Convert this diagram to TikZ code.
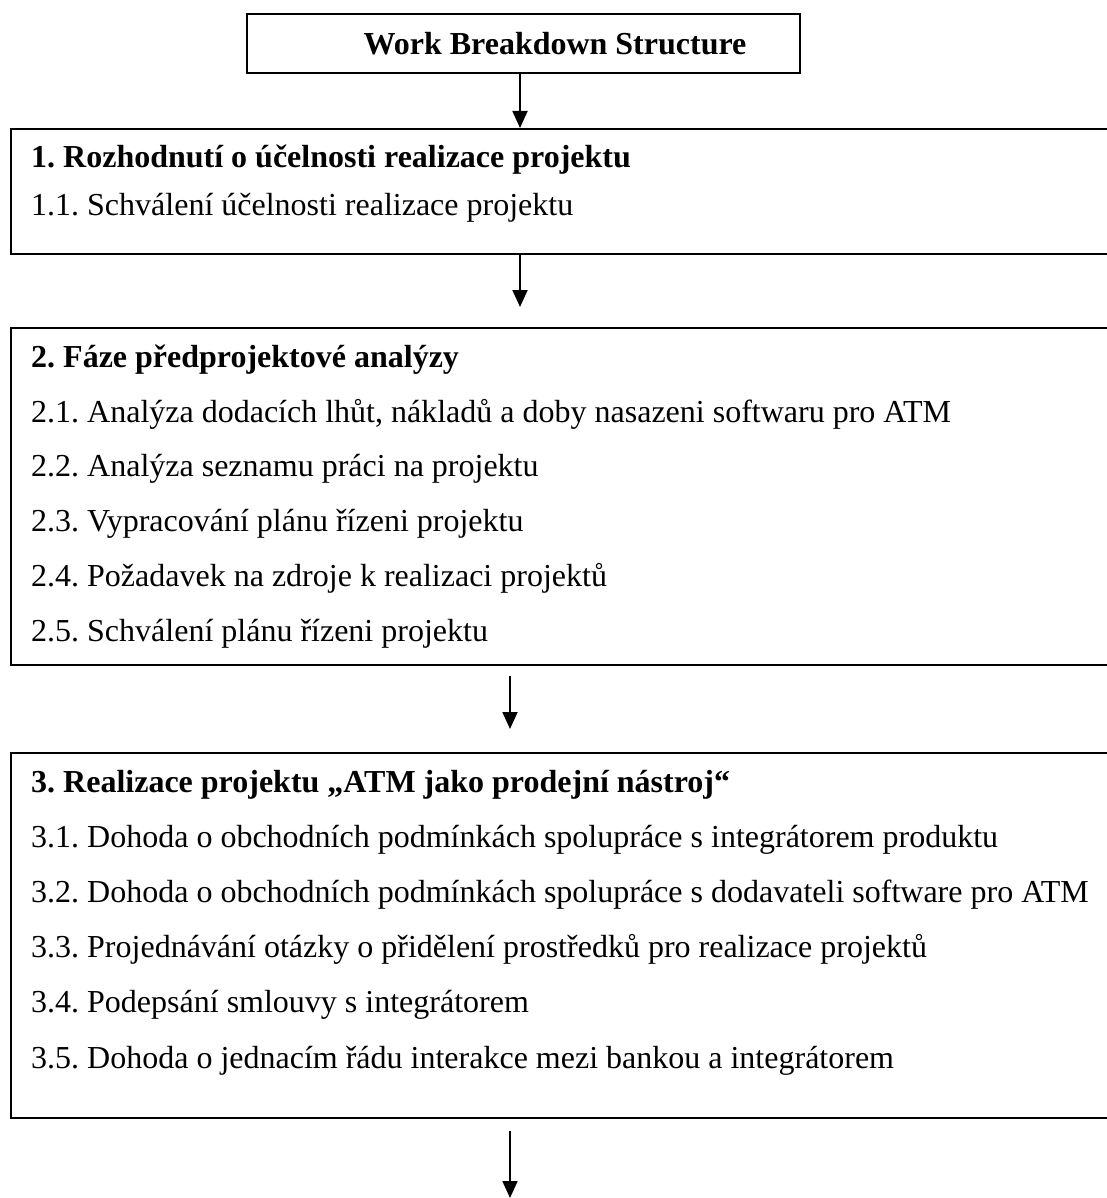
\documentclass[tikz,border=0pt]{standalone}
\usepackage{fontspec}
\setmainfont{Liberation Serif}
\usetikzlibrary{arrows.meta}
\frenchspacing
\begin{document}
\begin{tikzpicture}[x=1pt,y=-1pt,
  frame/.style={draw=black,line width=1.8pt,rectangle,inner sep=0pt,anchor=north west},
  titlebox/.style={draw=black,line width=2.2pt,rectangle,inner sep=0pt},
  txt/.style={anchor=base west,inner sep=0pt,font=\fontsize{32}{38}\selectfont},
  head/.style={txt,font=\fontsize{32}{38}\selectfont\bfseries},
  arr/.style={line width=1.8pt,-{Triangle[width=15pt,length=17pt]}}]
\useasboundingbox (0,0) rectangle (1107,1198);
\fill[white] (0,0) rectangle (1107,1198);

% title
\node[titlebox,minimum width=553pt,minimum height=59pt] (t) at (523.5,43.5) {};
\node[head,anchor=base] (tt) at (555,55) {Work Breakdown Structure};

% box 1
\node[frame,minimum width=1130pt,minimum height=125pt] (b1) at (10,128) {};
\node[head] (h1) at (31,168) {1. Rozhodnutí o účelnosti realizace projektu};
\node[txt] (l11) at (31,215) {1.1. Schválení účelnosti realizace projektu};

% box 2
\node[frame,minimum width=1130pt,minimum height=337pt] (b2) at (10,327) {};
\node[head] (h2) at (31,367) {2. Fáze předprojektové analýzy};
\node[txt] (l21) at (31,422) {2.1. Analýza dodacích lhůt, nákladů a doby nasazeni softwaru pro ATM};
\node[txt] (l22) at (31,476) {2.2. Analýza seznamu práci na projektu};
\node[txt] (l23) at (31,531) {2.3. Vypracování plánu řízeni projektu};
\node[txt] (l24) at (31,586) {2.4. Požadavek na zdroje k realizaci projektů};
\node[txt] (l25) at (31,641) {2.5. Schválení plánu řízeni projektu};

% box 3
\node[frame,minimum width=1130pt,minimum height=365pt] (b3) at (10,752) {};
\node[head] (h3) at (31,792) {3. Realizace projektu „ATM jako prodejní nástroj“};
\node[txt] (l31) at (31,847) {3.1. Dohoda o obchodních podmínkách spolupráce s integrátorem produktu};
\node[txt] (l32) at (31,902) {3.2. Dohoda o obchodních podmínkách spolupráce s dodavateli software pro ATM};
\node[txt] (l33) at (31,957) {3.3. Projednávání otázky o přidělení prostředků pro realizace projektů};
\node[txt] (l34) at (31,1012) {3.4. Podepsání smlouvy s integrátorem};
\node[txt] (l35) at (31,1068) {3.5. Dohoda o jednacím řádu interakce mezi bankou a integrátorem};

\coordinate (endpt) at (510,1198);

% arrows
\draw[arr] (520,0 |- t.south) -- (520,0 |- b1.north);
\draw[arr] (520,0 |- b1.south) -- ([yshift=20pt]520,0 |- b2.north);
\draw[arr] ([yshift=-10pt]510,0 |- b2.south) -- ([yshift=23pt]510,0 |- b3.north);
\draw[arr] ([yshift=-12pt]510,0 |- b3.south) -- (endpt);
\end{tikzpicture}
\end{document}
